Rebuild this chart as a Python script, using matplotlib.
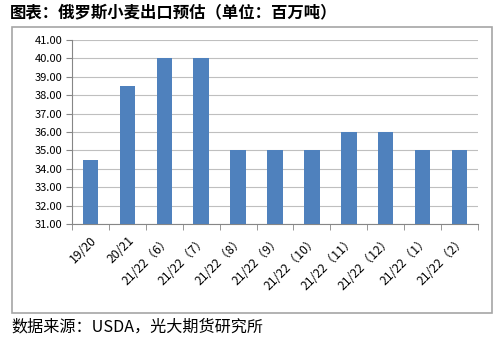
import numpy as np
import matplotlib
matplotlib.use("Agg")
from matplotlib import pyplot as plt
from matplotlib.patches import Rectangle

plt.rcParams['font.family'] = ['Noto Sans CJK SC', 'DejaVu Sans']

# Russian wheat export estimates (million tonnes)
categories = ["19/20", "20/21", "21/22（6）", "21/22（7）", "21/22（8）", "21/22（9）",
              "21/22（10）", "21/22（11）", "21/22（12）", "21/22（1）", "21/22（2）"]
exports = [34.5, 38.5, 40.0, 40.0, 35.0, 35.0, 35.0, 36.0, 36.0, 35.0, 35.0]
y_ticks = np.arange(31, 41.5, 1.0)

fig = plt.figure(figsize=(5.04, 3.39), dpi=100)

# outer border around the chart
fig.patches.append(Rectangle((12 / 504, 1 - 313 / 339), 480 / 504, 286 / 339,
                             transform=fig.transFigure, fill=False,
                             edgecolor="#A6A6A6", linewidth=1.2))

ax = fig.add_axes([72 / 504, 1 - 224 / 339, 406 / 504, 184 / 339])
x = np.arange(len(categories))
ax.bar(x, exports, width=0.42, color="#4F81BD", zorder=3)

ax.set_xlim(-0.5, len(categories) - 0.5)
ax.set_ylim(31, 41)
ax.set_yticks(y_ticks)
ax.set_yticklabels([f"{v:.2f}" for v in y_ticks], fontsize=8)
ax.yaxis.grid(True, color="#BFBFBF", linewidth=0.8, zorder=0)
ax.tick_params(axis="y", length=4, color="#868686", pad=3)

ax.set_xticks(x)
ax.set_xticklabels(categories, fontsize=8.8, rotation=45, ha="right", va="top",
                   rotation_mode="anchor")
ax.tick_params(axis="x", which="major", length=0, pad=7)
ax.set_xticks(np.arange(-0.5, len(categories), 1.0), minor=True)
ax.tick_params(axis="x", which="minor", length=4, color="#868686")

for side in ["top", "right"]:
    ax.spines[side].set_visible(False)
for side in ["left", "bottom"]:
    ax.spines[side].set_color("#868686")
    ax.spines[side].set_linewidth(0.8)

fig.text(10 / 504, 1 - 12 / 339, "图表：俄罗斯小麦出口预估（单位：百万吨）",
         fontsize=11.8, fontweight="bold", ha="left", va="center")
fig.text(11 / 504, 1 - 327 / 339, "数据来源：USDA，光大期货研究所",
         fontsize=11.6, ha="left", va="center")

fig.savefig("out.png", dpi=100)
